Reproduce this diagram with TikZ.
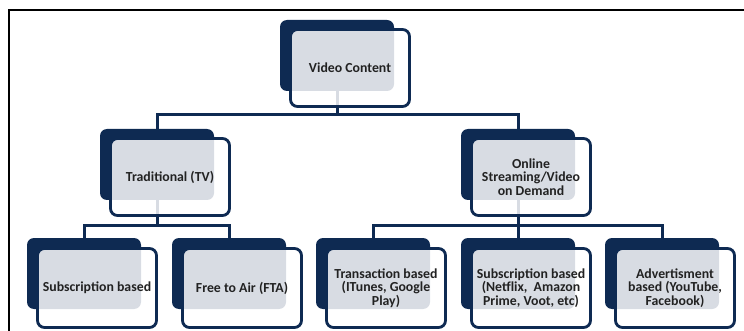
\documentclass[tikz,border=0pt]{standalone}
\usepackage{fontspec}
\setmainfont{Carlito}
\definecolor{navy}{RGB}{14,42,82}
\definecolor{txt}{RGB}{34,34,34}
\tikzset{
  backbox/.style={fill=navy, draw=none, rounded corners=7pt, minimum width=114pt, minimum height=71pt, inner sep=0pt, outer sep=0pt, anchor=north west},
  frontbox/.style={draw=navy, line width=2.8pt, fill=white, fill opacity=0.84, text opacity=1, rounded corners=7pt, minimum width=119pt, minimum height=77pt, inner sep=0pt, outer sep=0pt, anchor=north west, align=center, text=txt, font=\bfseries\fontsize{13.8}{13.3}\selectfont},
  lowfront/.style={frontbox, minimum height=79pt},
  conn/.style={draw=navy, line width=3pt},
  frame/.style={draw=black, line width=1.6pt}
}
\begin{document}
\begin{tikzpicture}[x=1pt,y=-1pt]
\useasboundingbox (0,0) rectangle (744,331);
\draw[frame] (9,331) -- (9,10) -- (744,10);
% back boxes (named, positions only)
\coordinate (vcp) at (280,20);
\coordinate (trp) at (100,129);
\coordinate (onp) at (461,129);
\coordinate (s1p) at (27,238);
\coordinate (ftp) at (172,238);
\coordinate (tap) at (316,238);
\coordinate (s2p) at (461,238);
\coordinate (adp) at (605,238);
\node[backbox] (vcb) at (vcp) {};
\node[backbox] (trb) at (trp) {};
\node[backbox] (onb) at (onp) {};
\node[backbox] (s1b) at (s1p) {};
\node[backbox] (ftb) at (ftp) {};
\node[backbox] (tab) at (tap) {};
\node[backbox] (s2b) at (s2p) {};
\node[backbox] (adb) at (adp) {};
% connectors
\coordinate (bus1) at (0,115);
\coordinate (bus2) at (0,225);
\draw[conn] (vcb.south) -- (vcb.south |- bus1) -| (trb.north);
\draw[conn] (vcb.south |- bus1) -| (onb.north);
\draw[conn] (trb.south) -- (trb.south |- bus2) -| (s1b.north);
\draw[conn] (trb.south |- bus2) -| (ftb.north);
\draw[conn] (onb.south) -- (onb.south |- bus2) -| (tab.north);
\draw[conn] (onb.south |- bus2) -| (adb.north);
\draw[conn] (onb.south |- bus2) -- (s2b.north);
% front boxes
\node[frontbox] (vcf) at ([shift={(10.5,9.5)}]vcp) {Video Content};
\node[frontbox] (trf) at ([shift={(10.5,9.5)}]trp) {Traditional (TV)};
\node[frontbox] (onf) at ([shift={(10.5,9.5)}]onp) {Online\\Streaming/Video\\on Demand};
\node[lowfront] (s1f) at ([shift={(10.5,10.5)}]s1p) {Subscription based};
\node[lowfront] (ftf) at ([shift={(10.5,10.5)}]ftp) {Free to Air (FTA)};
\node[lowfront] (taf) at ([shift={(10.5,10.5)}]tap) {Transaction based\\(ITunes, Google\\Play)};
\node[lowfront] (s2f) at ([shift={(10.5,10.5)}]s2p) {Subscription based\\(Netflix,\ \ Amazon\\Prime, Voot, etc)};
\node[lowfront] (adf) at ([shift={(10.5,10.5)}]adp) {Advertisment\\based (YouTube,\\Facebook)};
\end{tikzpicture}
\end{document}
